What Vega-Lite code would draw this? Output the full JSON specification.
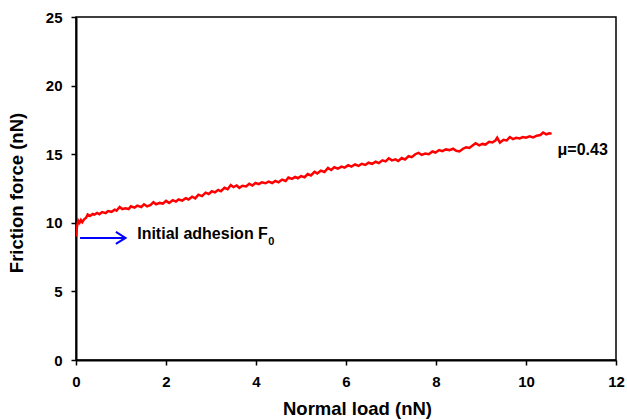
{
  "$schema": "https://vega.github.io/schema/vega-lite/v6.json",
  "autosize": {"type": "none"},
  "width": 540,
  "height": 343,
  "padding": {"left": 76, "top": 17, "right": 11, "bottom": 60},
  "background": "white",
  "config": {
    "font": "Liberation Sans",
    "view": {"stroke": "black", "strokeWidth": 1.5},
    "axis": {
      "grid": false,
      "domainColor": "black",
      "domainWidth": 2,
      "tickColor": "black",
      "tickWidth": 1.5,
      "tickSize": 5,
      "labelFlush": false,
      "labelFont": "Liberation Sans",
      "labelFontWeight": "bold",
      "labelFontSize": 15,
      "labelColor": "black",
      "labelPadding": 9,
      "titleFont": "Liberation Sans",
      "titleFontWeight": "bold",
      "titleFontSize": 18.5,
      "titleColor": "black"
    }
  },
  "datasets": {
    "curve": [
      {"x":0.00,"y":9.0},{"x":0.02,"y":9.7},{"x":0.05,"y":10.15},{"x":0.08,"y":10.0},{"x":0.11,"y":10.2},
      {"x":0.14,"y":10.05},{"x":0.18,"y":10.25},{"x":0.22,"y":10.35},{"x":0.26,"y":10.6},{"x":0.31,"y":10.5},
      {"x":0.37,"y":10.65},{"x":0.41,"y":10.6},{"x":0.47,"y":10.72},{"x":0.52,"y":10.62},{"x":0.58,"y":10.78},
      {"x":0.66,"y":10.7},{"x":0.71,"y":10.85},{"x":0.79,"y":10.8},{"x":0.86,"y":10.95},{"x":0.90,"y":10.88},
      {"x":0.97,"y":11.15},{"x":1.03,"y":11.0},{"x":1.10,"y":11.05},{"x":1.17,"y":11.0},{"x":1.22,"y":11.2},
      {"x":1.30,"y":11.1},{"x":1.36,"y":11.25},{"x":1.45,"y":11.15},{"x":1.51,"y":11.35},{"x":1.58,"y":11.2},
      {"x":1.66,"y":11.3},{"x":1.72,"y":11.5},{"x":1.78,"y":11.35},{"x":1.86,"y":11.45},{"x":1.93,"y":11.4},
      {"x":2.00,"y":11.6},{"x":2.07,"y":11.45},{"x":2.15,"y":11.65},{"x":2.22,"y":11.55},{"x":2.28,"y":11.7},
      {"x":2.36,"y":11.62},{"x":2.44,"y":11.8},{"x":2.50,"y":11.7},{"x":2.58,"y":11.9},{"x":2.65,"y":11.78},
      {"x":2.72,"y":12.05},{"x":2.80,"y":11.95},{"x":2.88,"y":12.2},{"x":2.95,"y":12.1},{"x":3.02,"y":12.3},
      {"x":3.09,"y":12.22},{"x":3.16,"y":12.4},{"x":3.22,"y":12.3},{"x":3.30,"y":12.55},{"x":3.37,"y":12.45},
      {"x":3.44,"y":12.75},{"x":3.50,"y":12.6},{"x":3.57,"y":12.72},{"x":3.63,"y":12.55},{"x":3.70,"y":12.7},
      {"x":3.78,"y":12.65},{"x":3.85,"y":12.85},{"x":3.92,"y":12.72},{"x":3.99,"y":12.9},{"x":4.06,"y":12.82},
      {"x":4.13,"y":12.95},{"x":4.21,"y":12.88},{"x":4.28,"y":13.0},{"x":4.36,"y":12.9},{"x":4.43,"y":13.05},
      {"x":4.50,"y":12.95},{"x":4.58,"y":13.15},{"x":4.66,"y":13.05},{"x":4.72,"y":13.3},{"x":4.80,"y":13.2},
      {"x":4.87,"y":13.35},{"x":4.93,"y":13.25},{"x":5.00,"y":13.4},{"x":5.08,"y":13.32},{"x":5.15,"y":13.55},
      {"x":5.22,"y":13.45},{"x":5.30,"y":13.72},{"x":5.36,"y":13.6},{"x":5.44,"y":13.8},{"x":5.52,"y":13.7},
      {"x":5.60,"y":14.0},{"x":5.67,"y":13.85},{"x":5.74,"y":14.05},{"x":5.82,"y":13.95},{"x":5.90,"y":14.1},
      {"x":5.97,"y":14.02},{"x":6.05,"y":14.2},{"x":6.12,"y":14.1},{"x":6.20,"y":14.25},{"x":6.28,"y":14.15},
      {"x":6.35,"y":14.3},{"x":6.43,"y":14.22},{"x":6.50,"y":14.38},{"x":6.58,"y":14.3},{"x":6.66,"y":14.45},
      {"x":6.73,"y":14.35},{"x":6.81,"y":14.55},{"x":6.88,"y":14.48},{"x":6.95,"y":14.7},{"x":7.02,"y":14.55},
      {"x":7.10,"y":14.62},{"x":7.16,"y":14.5},{"x":7.24,"y":14.72},{"x":7.31,"y":14.62},{"x":7.39,"y":14.85},
      {"x":7.46,"y":14.78},{"x":7.54,"y":15.0},{"x":7.61,"y":15.1},{"x":7.68,"y":14.95},{"x":7.76,"y":15.05},
      {"x":7.84,"y":15.0},{"x":7.92,"y":15.2},{"x":7.99,"y":15.12},{"x":8.07,"y":15.3},{"x":8.14,"y":15.22},
      {"x":8.22,"y":15.35},{"x":8.30,"y":15.3},{"x":8.38,"y":15.4},{"x":8.45,"y":15.25},{"x":8.52,"y":15.2},
      {"x":8.60,"y":15.4},{"x":8.67,"y":15.5},{"x":8.74,"y":15.45},{"x":8.82,"y":15.65},{"x":8.88,"y":15.8},
      {"x":8.96,"y":15.65},{"x":9.03,"y":15.75},{"x":9.10,"y":15.7},{"x":9.18,"y":15.9},{"x":9.25,"y":15.85},
      {"x":9.32,"y":16.0},{"x":9.36,"y":16.2},{"x":9.42,"y":15.85},{"x":9.50,"y":16.05},{"x":9.57,"y":16.0},
      {"x":9.64,"y":16.25},{"x":9.71,"y":16.1},{"x":9.78,"y":16.2},{"x":9.86,"y":16.15},{"x":9.93,"y":16.25},
      {"x":10.00,"y":16.2},{"x":10.08,"y":16.3},{"x":10.16,"y":16.22},{"x":10.24,"y":16.35},{"x":10.32,"y":16.4},
      {"x":10.38,"y":16.58},{"x":10.45,"y":16.45},{"x":10.52,"y":16.52},{"x":10.57,"y":16.5}
    ],
    "arrow": [{"x1": 0.09, "x2": 1.07, "y": 8.9}],
    "arrowhead": [{"x": 1.1, "y": 8.9}],
    "mu": [{"x": 10.7, "y": 15.3, "label": "μ=0.43"}],
    "adh": [{"x": 1.36, "y": 9.15, "label": "Initial adhesion F"}],
    "sub": [{"x": 4.27, "y": 8.6, "label": "0"}]
  },
  "layer": [
    {
      "data": {"name": "curve"},
      "mark": {"type": "line", "color": "#ff0000", "strokeWidth": 2.5, "clip": true},
      "encoding": {
        "x": {"field": "x", "type": "quantitative", "scale": {"domain": [0, 12], "nice": false}, "axis": {"values": [0,2,4,6,8,10,12], "title": "Normal load (nN)", "titlePadding": 10, "titleX": 281, "titleAlign": "center"}},
        "y": {"field": "y", "type": "quantitative", "scale": {"domain": [0, 25], "nice": false}, "axis": {"values": [0,5,10,15,20,25], "title": "Friction force (nN)", "titlePadding": 19, "titleY": 175.5, "titleAlign": "center"}}
      }
    },
    {
      "data": {"name": "arrow"},
      "mark": {"type": "rule", "color": "#0000ff", "strokeWidth": 2},
      "encoding": {
        "x": {"field": "x1", "type": "quantitative"},
        "x2": {"field": "x2"},
        "y": {"field": "y", "type": "quantitative"}
      }
    },
    {
      "data": {"name": "arrowhead"},
      "mark": {"type": "point", "shape": "M-1.6,-1L0,0L-1.6,1", "filled": false, "color": "#0000ff", "strokeWidth": 2, "size": 144, "opacity": 1},
      "encoding": {
        "x": {"field": "x", "type": "quantitative"},
        "y": {"field": "y", "type": "quantitative"}
      }
    },
    {
      "data": {"name": "mu"},
      "mark": {"type": "text", "align": "left", "baseline": "middle", "fontWeight": "bold", "fontSize": 16, "font": "Liberation Sans", "color": "black"},
      "encoding": {
        "x": {"field": "x", "type": "quantitative"},
        "y": {"field": "y", "type": "quantitative"},
        "text": {"field": "label"}
      }
    },
    {
      "data": {"name": "adh"},
      "mark": {"type": "text", "align": "left", "baseline": "middle", "fontWeight": "bold", "fontSize": 16, "font": "Liberation Sans", "color": "black"},
      "encoding": {
        "x": {"field": "x", "type": "quantitative"},
        "y": {"field": "y", "type": "quantitative"},
        "text": {"field": "label"}
      }
    },
    {
      "data": {"name": "sub"},
      "mark": {"type": "text", "align": "left", "baseline": "middle", "fontWeight": "bold", "fontSize": 11, "font": "Liberation Sans", "color": "black"},
      "encoding": {
        "x": {"field": "x", "type": "quantitative"},
        "y": {"field": "y", "type": "quantitative"},
        "text": {"field": "label"}
      }
    }
  ]
}
